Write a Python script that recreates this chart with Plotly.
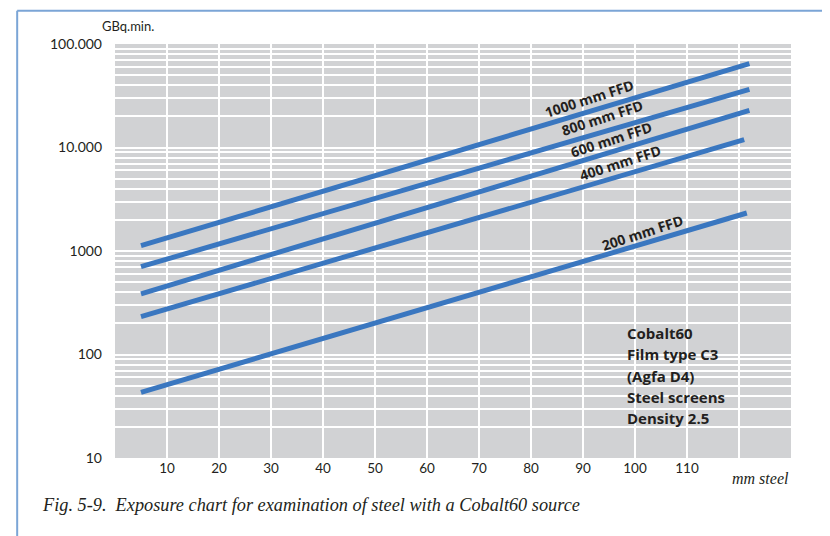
import math
import plotly.graph_objects as go

# ---- data ----
series_names = ["1000 mm FFD", "800 mm FFD", "600 mm FFD", "400 mm FFD", "200 mm FFD"]
x_start = [5, 5, 5, 5, 5]
x_end = [122, 122, 122, 121, 121.5]
y_start = [1125, 705, 386, 232, 43]
y_end = [64500, 36500, 22850, 11900, 2330]

x_tick_vals = [10, 20, 30, 40, 50, 60, 70, 80, 90, 100, 110]
x_tick_text = ["10", "20", "30", "40", "50", "60", "70", "80", "90", "100", "110"]
x_grid_vals = [10, 20, 30, 40, 50, 60, 70, 80, 90, 100, 110, 120]
y_tick_vals = [10, 100, 1000, 10000, 100000]
y_tick_text = ["10", "100", "1000", "10.000", "100.000"]
y_minor_vals = [m * d for d in [10, 100, 1000, 10000] for m in range(2, 10)]

info_lines = ["Cobalt60", "Film type C3", "(Agfa D4)", "Steel screens", "Density 2.5"]

# label placement (data coords) for each series
label_x = [91.2, 93.8, 95.4, 97.3, 101.5]
label_y = [27700, 18150, 11250, 6670, 1422]

LINE_COLOR = "#3a77c0"
TXT = "#231f20"

fig = go.Figure()
for i, name in enumerate(series_names):
    fig.add_trace(go.Scatter(
        x=[x_start[i], x_end[i]], y=[y_start[i], y_end[i]],
        mode="lines", line=dict(color=LINE_COLOR, width=5),
        name=name, showlegend=False, hoverinfo="skip"))
    fig.add_annotation(x=label_x[i], y=math.log10(label_y[i]), xref="x", yref="y",
                       text=f"<b>{name}</b>", showarrow=False, textangle=-18, yshift=3,
                       font=dict(family="Open Sans", size=14, color=TXT))

for j, line in enumerate(info_lines):
    fig.add_annotation(x=98.0, y=math.log10(161), xref="x", yref="y",
                       text=f"<b>{line}</b>", yshift=-21.25 * j,
                       showarrow=False, align="left", xanchor="left", yanchor="middle",
                       font=dict(family="Open Sans", size=15, color=TXT))

# axis titles / caption
fig.add_annotation(x=0.0195, y=1.044, xref="paper", yref="paper", text="GBq.min.",
                   showarrow=False, xanchor="center", yanchor="middle",
                   font=dict(family="Lato", size=13, color=TXT))
fig.add_annotation(x=0.9993, y=-0.05, xref="paper", yref="paper", text="<i>mm steel</i>",
                   showarrow=False, xanchor="right", yanchor="middle",
                   font=dict(family="Liberation Serif", size=16, color=TXT))
fig.add_annotation(x=-0.1225, y=-0.1128, xref="paper", yref="paper", xshift=8,
                   text="<i>Fig. 5-9.  Exposure chart for examination of steel with a Cobalt60 source</i>",
                   showarrow=False, xanchor="left", yanchor="middle",
                   font=dict(family="Liberation Serif", size=18.3, color=TXT))

# frame lines (top + left)
FRAME = "#7ba5d6"
fig.add_shape(type="line", xref="paper", yref="paper", x0=-0.1447, x1=1.08, y0=1.0804, y1=1.0804,
              line=dict(color=FRAME, width=2))
fig.add_shape(type="line", xref="paper", yref="paper", x0=-0.1447, x1=-0.1447, y0=1.0804, y1=-0.22,
              line=dict(color=FRAME, width=2))

fig.update_layout(
    width=830, height=536,
    margin=dict(l=107, r=47, t=36, b=86),
    paper_bgcolor="white", plot_bgcolor="#d1d2d4",
    showlegend=False,
)
fig.update_xaxes(
    range=[0, 130], tickvals=x_tick_vals, ticktext=x_tick_text,
    showgrid=False, zeroline=False, showline=False, ticks="",
    tickfont=dict(family="Lato", size=13.5, color=TXT),
    minor=dict(tickvals=x_grid_vals, showgrid=True, gridcolor="white", gridwidth=1.5, ticks=""),
)
fig.update_yaxes(
    type="log", range=[1, 5], tickvals=y_tick_vals, ticktext=y_tick_text,
    showgrid=True, gridcolor="white", gridwidth=1.5, zeroline=False, showline=False, ticks="",
    ticklabelstandoff=12,
    tickfont=dict(family="Lato", size=14, color=TXT),
    minor=dict(tickvals=y_minor_vals, showgrid=True, gridcolor="white", gridwidth=1.5, ticks=""),
)

fig.write_html("out.html")
